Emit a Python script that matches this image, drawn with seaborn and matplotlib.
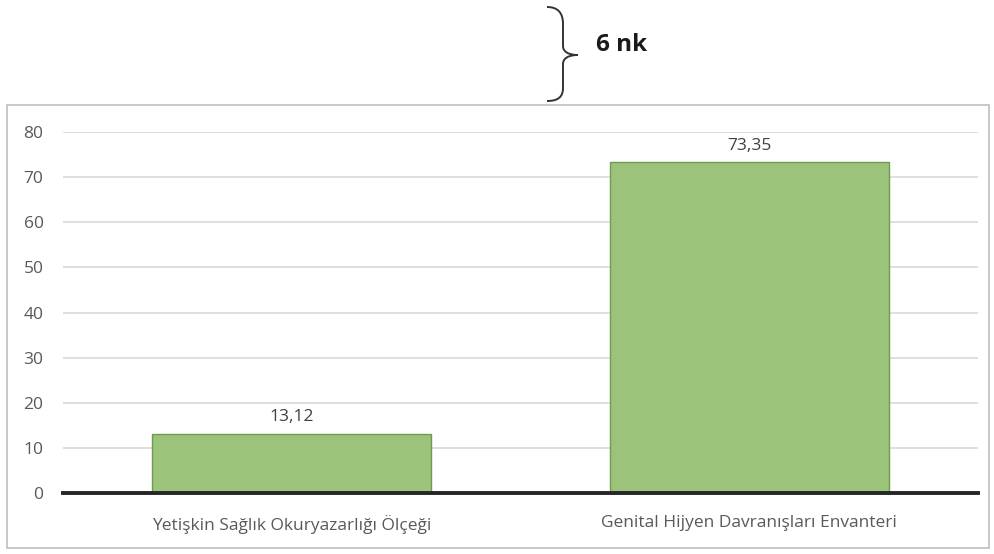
import matplotlib
matplotlib.use("Agg")
import matplotlib.pyplot as plt
import seaborn as sns
import pandas as pd
from matplotlib.patches import Rectangle, PathPatch
from matplotlib.path import Path

# values
categories = ["Yetişkin Sağlık Okuryazarlığı Ölçeği", "Genital Hijyen Davranışları Envanteri"]
scores = [13.12, 73.35]
score_labels = ["13,12", "73,35"]
y_ticks = [0, 10, 20, 30, 40, 50, 60, 70, 80]
note_text = "6 nk"

sns.set_theme(style="white")
plt.rcParams["font.family"] = ["Open Sans", "DejaVu Sans"]

df = pd.DataFrame({"olcek": categories, "puan": scores})

W, H = 994, 554
fig = plt.figure(figsize=(W / 100, H / 100), dpi=100)
fig.patch.set_facecolor("white")

# outer chart frame
frame = Rectangle((0.007, 0.011), 0.988, 0.80, transform=fig.transFigure,
                  fill=False, edgecolor="#BFBFBF", linewidth=1.2)
fig.patches.append(frame)

ax = fig.add_axes([0.0634, 0.1101, 0.9205, 0.6516])
sns.barplot(data=df, x="olcek", y="puan", ax=ax, color="#9BC47A",
            edgecolor="#6F9A50", linewidth=1.0, width=0.61, saturation=1)

ax.set_ylim(0, 80)
ax.set_yticks(y_ticks)
ax.yaxis.grid(True, color="#D9D9D9", linewidth=1.2)
ax.set_axisbelow(True)
for s in ["top", "right", "left"]:
    ax.spines[s].set_visible(False)
ax.spines["bottom"].set_color("#262626")
ax.spines["bottom"].set_linewidth(2.8)
ax.set_xlabel("")
ax.set_ylabel("")
ax.tick_params(axis="both", length=0, labelsize=12.5, labelcolor="#595959")
ax.tick_params(axis="y", pad=14)
ax.tick_params(axis="x", pad=16)

for p, txt in zip(ax.patches, score_labels):
    ax.annotate(txt, (p.get_x() + p.get_width() / 2, p.get_height()),
                xytext=(0, 6), textcoords="offset points", ha="center", va="bottom",
                fontsize=12.5, color="#404040")

# curly brace above the chart (pixel coords, y from top)
def px(x, y):
    return (x / W, 1 - y / H)

brace_pts = [px(547, 7), px(558, 7), px(563, 13), px(563, 24),
             px(563, 46), px(563, 52), px(569, 55), px(578, 55),
             px(569, 55), px(563, 58), px(563, 64),
             px(563, 88), px(563, 97), px(558, 101), px(547, 101)]
brace_codes = [Path.MOVETO, Path.CURVE4, Path.CURVE4, Path.CURVE4,
               Path.LINETO, Path.CURVE4, Path.CURVE4, Path.CURVE4,
               Path.CURVE4, Path.CURVE4, Path.CURVE4,
               Path.LINETO, Path.CURVE4, Path.CURVE4, Path.CURVE4]
brace = PathPatch(Path(brace_pts, brace_codes), transform=fig.transFigure,
                  fill=False, edgecolor="#333333", linewidth=1.4)
fig.patches.append(brace)

fig.text(0.600, 0.918, note_text, fontsize=17.5, fontweight="bold", color="#1a1a1a",
         ha="left", va="center")

fig.savefig("out.png", dpi=100, facecolor="white")
